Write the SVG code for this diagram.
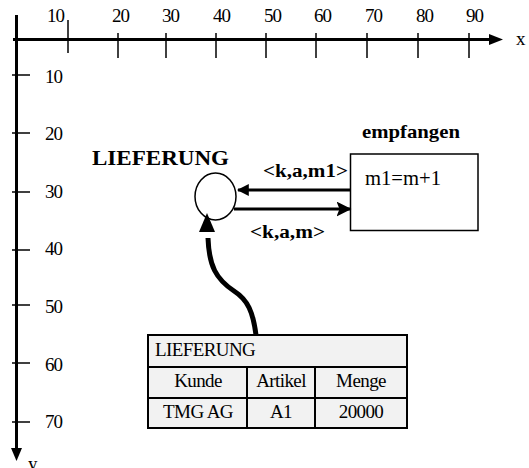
<svg xmlns="http://www.w3.org/2000/svg" width="529" height="468" viewBox="0 0 529 468">
<defs>
<style>
text{font-family:"Liberation Serif","Times New Roman",serif;fill:#000}
.ax{font-size:19px;letter-spacing:-1px}
.b{font-weight:bold}
.t{font-size:19px;letter-spacing:-0.6px}
.tick{stroke:#000;stroke-width:1.5}
.axis{stroke:#000;stroke-width:3}
.cell{fill:#f2f2f2;stroke:#000;stroke-width:2}
</style>
<marker id="fill" viewBox="0 0 10 10" refX="9" refY="5" markerWidth="4" markerHeight="4" orient="auto" markerUnits="strokeWidth">
<path d="M0,0 L10,5 L0,10 z" fill="#000"/>
</marker>
<marker id="open" viewBox="0 0 10 10" refX="9" refY="5" markerWidth="5" markerHeight="5" orient="auto" markerUnits="strokeWidth">
<path d="M0,0 L10,5 L0,10 L2,5 z" fill="#000"/>
</marker>
</defs>
<g id="axes">
<line class="axis" x1="13" y1="39.5" x2="492" y2="39.5"/>
<path d="M489,34 L503,39.5 L489,45 z" fill="#000"/>
<line class="axis" x1="16.5" y1="15" x2="16.5" y2="450"/>
<path d="M11,448 L16.5,461 L22,448 z" fill="#000"/>
<line class="tick" x1="68" y1="20" x2="68" y2="53"/>
<line class="tick" x1="118" y1="33" x2="118" y2="58"/>
<line class="tick" x1="166" y1="33" x2="166" y2="58"/>
<line class="tick" x1="216" y1="33" x2="216" y2="58"/>
<line class="tick" x1="266" y1="33" x2="266" y2="58"/>
<line class="tick" x1="316" y1="33" x2="316" y2="58"/>
<line class="tick" x1="367" y1="33" x2="367" y2="58"/>
<line class="tick" x1="418" y1="33" x2="418" y2="58"/>
<line class="tick" x1="469" y1="33" x2="469" y2="58"/>
<line class="tick" x1="12" y1="75" x2="30" y2="75"/>
<line class="tick" x1="12" y1="133" x2="30" y2="133"/>
<line class="tick" x1="12" y1="192" x2="30" y2="192"/>
<line class="tick" x1="12" y1="250" x2="30" y2="250"/>
<line class="tick" x1="12" y1="305" x2="30" y2="305"/>
<line class="tick" x1="12" y1="363" x2="30" y2="363"/>
<line class="tick" x1="12" y1="422" x2="30" y2="422"/>
<text class="ax" x="47" y="22">10</text>
<text class="ax" x="112" y="22">20</text>
<text class="ax" x="162" y="22">30</text>
<text class="ax" x="213" y="22">40</text>
<text class="ax" x="264" y="22">50</text>
<text class="ax" x="314" y="22">60</text>
<text class="ax" x="365" y="22">70</text>
<text class="ax" x="416" y="22">80</text>
<text class="ax" x="466" y="22">90</text>
<text class="ax" x="516" y="45">x</text>
<text class="ax" x="45" y="83">10</text>
<text class="ax" x="45" y="140">20</text>
<text class="ax" x="45" y="198">30</text>
<text class="ax" x="45" y="255">40</text>
<text class="ax" x="45" y="313">50</text>
<text class="ax" x="45" y="371">60</text>
<text class="ax" x="45" y="428">70</text>
<text class="ax" x="28" y="470">y</text>
</g>
<g id="lieferung">
<ellipse cx="215.5" cy="196.5" rx="20.5" ry="23.5" fill="#fff" stroke="#000" stroke-width="1.5"/>
<text class="b" x="92" y="165" font-size="22" textLength="137" lengthAdjust="spacingAndGlyphs">LIEFERUNG</text>
</g>
<g id="empfangen">
<rect x="350.5" y="154" width="127.5" height="76.5" fill="#fff" stroke="#000" stroke-width="1.5"/>
<text class="b" x="362" y="138" font-size="19" textLength="98" lengthAdjust="spacingAndGlyphs">empfangen</text>
<text x="365" y="185" font-size="20" textLength="76" lengthAdjust="spacingAndGlyphs">m1=m+1</text>
</g>
<g id="table">
<rect class="cell" x="148" y="335" width="259" height="32"/>
<rect class="cell" x="148" y="367" width="99" height="31"/>
<rect class="cell" x="247" y="367" width="68" height="31"/>
<rect class="cell" x="315" y="367" width="92" height="31"/>
<rect class="cell" x="148" y="398" width="99" height="30"/>
<rect class="cell" x="247" y="398" width="68" height="30"/>
<rect class="cell" x="315" y="398" width="92" height="30"/>
<text class="t" x="155" y="356">LIEFERUNG</text>
<text class="t" x="198" y="387" text-anchor="middle">Kunde</text>
<text class="t" x="281" y="387" text-anchor="middle">Artikel</text>
<text class="t" x="361" y="387" text-anchor="middle">Menge</text>
<text class="t" x="198" y="418" text-anchor="middle">TMG AG</text>
<text class="t" x="281" y="418" text-anchor="middle">A1</text>
<text class="t" x="361" y="418" text-anchor="middle">20000</text>
</g>
<g id="connectors">
<line x1="350" y1="190" x2="238" y2="190" stroke="#000" stroke-width="3" marker-end="url(#fill)"/>
<line x1="234" y1="209" x2="350" y2="209" stroke="#000" stroke-width="3" marker-end="url(#open)"/>
<path d="M256,335 C253,312 248,300 234,291 C216,279 209,266 208,238" fill="none" stroke="#000" stroke-width="5"/>
<path d="M199,232 L207,213 L215,232 z" fill="#000"/>
<text class="b" x="263" y="177" font-size="18" textLength="85" lengthAdjust="spacingAndGlyphs">&lt;k,a,m1&gt;</text>
<text class="b" x="250" y="238" font-size="18" textLength="75" lengthAdjust="spacingAndGlyphs">&lt;k,a,m&gt;</text>
</g>
</svg>
